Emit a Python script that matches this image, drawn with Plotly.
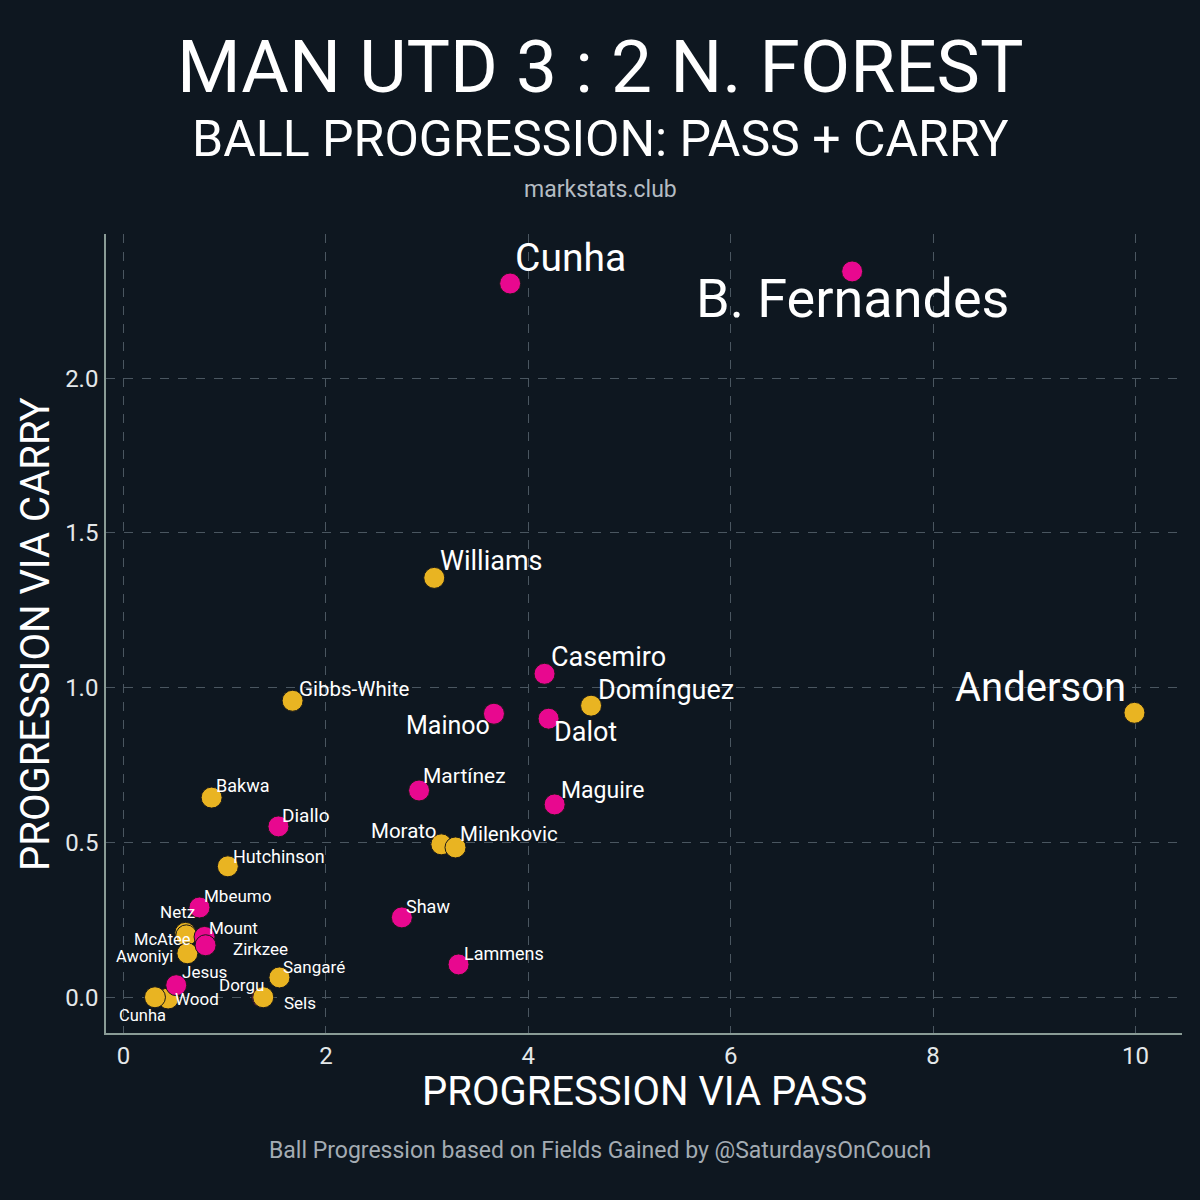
import plotly.graph_objects as go

# players, drawn in this order (later ones sit on top)
players = [
    "B. Fernandes", "Cunha", "Casemiro", "Mainoo", "Dalot", "Martínez", "Maguire",
    "Diallo", "Shaw", "Lammens", "Mbeumo", "Dorgu",
    "Williams", "Domínguez", "Anderson", "Gibbs-White", "Bakwa", "Morato",
    "Milenkovic", "Hutchinson", "Netz", "McAtee", "Awoniyi", "Sangaré", "Sels",
    "Wood", "Cunha",
    "Mount", "Zirkzee", "Jesus",
]
teams = [
    "MUN", "MUN", "MUN", "MUN", "MUN", "MUN", "MUN",
    "MUN", "MUN", "MUN", "MUN", "MUN",
    "NFO", "NFO", "NFO", "NFO", "NFO", "NFO",
    "NFO", "NFO", "NFO", "NFO", "NFO", "NFO", "NFO",
    "NFO", "NFO",
    "MUN", "MUN", "MUN",
]
via_pass = [
    7.20, 3.82, 4.16, 3.66, 4.20, 2.92, 4.26,
    1.53, 2.75, 3.31, 0.75, 1.37,
    3.07, 4.62, 9.99, 1.67, 0.87, 3.14,
    3.28, 1.03, 0.61, 0.62, 0.63, 1.54, 1.38,
    0.44, 0.31,
    0.80, 0.81, 0.52,
]
via_carry = [
    2.345, 2.306, 1.045, 0.916, 0.900, 0.668, 0.623,
    0.552, 0.258, 0.106, 0.290, 0.000,
    1.355, 0.942, 0.919, 0.958, 0.645, 0.494,
    0.484, 0.423, 0.208, 0.200, 0.142, 0.064, 0.000,
    -0.004, 0.000,
    0.195, 0.168, 0.039,
]

TEAM_COLORS = {"MUN": "#E8088F", "NFO": "#E9B422"}
BG = "#0E1720"

# label placement per player: (xanchor, xshift, yshift, font size)
LABEL_STYLE = [
    ("center", 0, -27, 54), ("left", 3, 26, 39), ("left", 4, 17, 27),
    ("right", -2, -12, 25), ("left", 3, -13, 27), ("left", 2, 15, 21),
    ("left", 4, 14, 23), ("left", 2, 11, 19), ("left", 2, 11, 18),
    ("left", 3, 11, 18), ("left", 3, 11, 17), ("right", 4, 12, 17),
    ("left", 4, 17, 27), ("left", 5, 16, 27), ("right", -6, 25, 40),
    ("left", 4, 12, 20.5), ("left", 2, 12, 18), ("right", -3, 13, 20.5),
    ("left", 3, 13, 20.5), ("left", 3, 10, 18), ("right", 12, 21, 17),
    ("right", 7, -4, 16.5), ("right", -12, -3, 16.5), ("left", 2, 10, 17),
    ("left", 19, -6, 17), ("left", 5, -1, 17), ("center", -12, -18, 16.5),
    ("left", 2, 9, 17), ("left", 25, -4, 17), ("left", 4, 13, 17),
]

fig = go.Figure()
fig.add_trace(go.Scatter(
    x=via_pass, y=via_carry, mode="markers",
    marker=dict(size=21, color=[TEAM_COLORS[t] for t in teams],
                line=dict(color="#1a1a1a", width=1)),
    text=players, hoverinfo="text", showlegend=False,
))

annotations = []
for name, px, cy, (anchor, dx, dy, size) in zip(players, via_pass, via_carry, LABEL_STYLE):
    annotations.append(dict(
        x=px, y=cy, xref="x", yref="y", text=name, showarrow=False,
        xanchor=anchor, yanchor="middle", xshift=dx, yshift=dy,
        font=dict(family="Roboto", size=size, color="#FFFFFF"),
    ))

# headings and axis titles, placed in paper coordinates
PLOT_TOP, PLOT_BOTTOM, PLOT_LEFT, PLOT_RIGHT = 234, 1033, 106, 1182


def paper_y(pix):
    return (PLOT_BOTTOM - pix) / (PLOT_BOTTOM - PLOT_TOP)


def paper_x(pix):
    return (pix - PLOT_LEFT) / (PLOT_RIGHT - PLOT_LEFT)


headings = [
    ("MAN UTD 3 : 2 N. FOREST", 600, 67, 73, "#FFFFFF", 0),
    ("BALL PROGRESSION: PASS + CARRY", 600, 139, 50, "#FFFFFF", 0),
    ("markstats.club", 600, 190, 23, "#B4BCC3", 0),
    ("Ball Progression based on Fields Gained by @SaturdaysOnCouch", 600, 1150, 23, "#A4ACB3", 0),
    ("PROGRESSION VIA PASS", 644, 1091, 40, "#FFFFFF", 0),
    ("PROGRESSION VIA CARRY", 35, 634, 40, "#FFFFFF", -90),
]
for text, hx, hy, size, color, angle in headings:
    annotations.append(dict(
        x=paper_x(hx), y=paper_y(hy), xref="paper", yref="paper", text=text,
        showarrow=False, xanchor="center", yanchor="middle", textangle=angle,
        font=dict(family="Roboto", size=size, color=color),
    ))

axis_common = dict(
    showline=True, linecolor="#8A9C96", linewidth=1.5, mirror=False,
    showgrid=True, gridcolor="#4A5660", gridwidth=1, griddash="dash",
    zeroline=False, ticks="", tickfont=dict(family="Roboto", size=24, color="#E4E8EA"),
)

fig.update_layout(
    width=1200, height=1200,
    paper_bgcolor=BG, plot_bgcolor=BG,
    margin=dict(l=PLOT_LEFT, r=1200 - PLOT_RIGHT, t=PLOT_TOP, b=1200 - PLOT_BOTTOM),
    xaxis=dict(range=[-0.174, 10.46], tickvals=[0, 2, 4, 6, 8, 10], **axis_common),
    yaxis=dict(range=[-0.1155, 2.466], tickvals=[0, 0.5, 1.0, 1.5, 2.0],
               ticktext=["0.0", "0.5", "1.0", "1.5", "2.0"], ticklabelstandoff=1,
               **axis_common),
    annotations=annotations,
    font=dict(family="Roboto"),
)

fig.write_html("out.html", config={"displayModeBar": False},
               post_script="document.body.style.margin='0';")
